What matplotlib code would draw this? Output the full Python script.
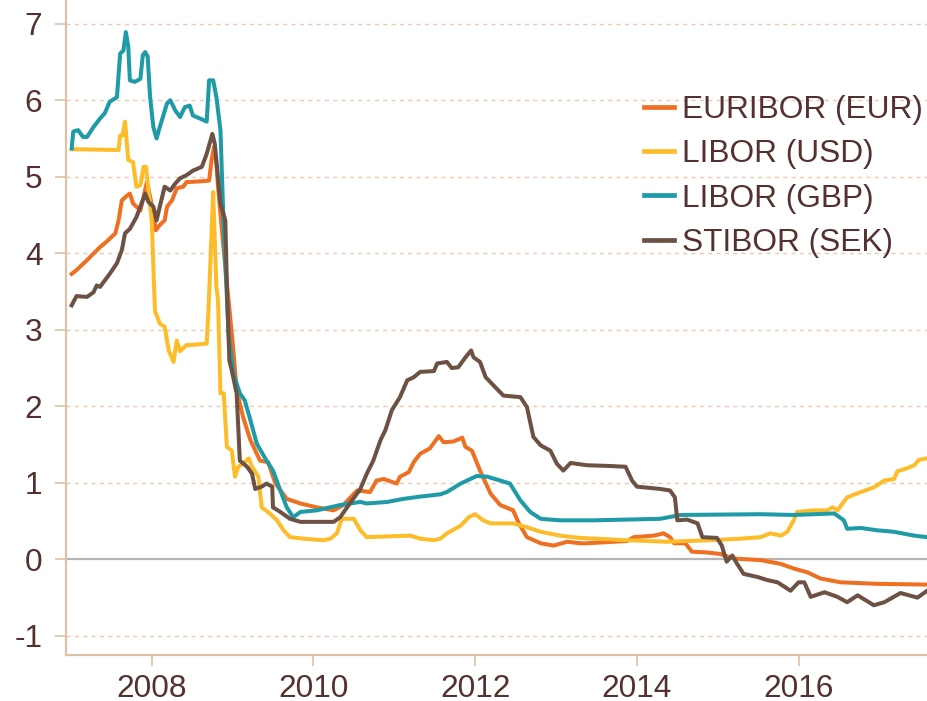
import matplotlib.pyplot as plt

# Tasas interbancarias a 3 meses (%) (año decimal, valor)
eur_t = [2007.01, 2007.07, 2007.20, 2007.36, 2007.44, 2007.55, 2007.59, 2007.63, 2007.69, 2007.73,
         2007.77, 2007.86, 2007.90, 2007.94, 2007.98, 2008.02, 2008.05, 2008.10, 2008.16, 2008.19,
         2008.25, 2008.31, 2008.39, 2008.43, 2008.60, 2008.71, 2008.74, 2008.77, 2008.80, 2008.82,
         2008.89, 2008.95, 2009.01, 2009.05, 2009.13, 2009.22, 2009.34, 2009.44, 2009.53, 2009.67,
         2009.84, 2010.04, 2010.25, 2010.37, 2010.54, 2010.70, 2010.78, 2010.87, 2011.03, 2011.07,
         2011.18, 2011.24, 2011.32, 2011.44, 2011.55, 2011.61, 2011.73, 2011.84, 2011.88, 2011.96,
         2012.06, 2012.19, 2012.31, 2012.47, 2012.54, 2012.64, 2012.81, 2012.97, 2013.14, 2013.30,
         2013.38, 2013.88, 2013.96, 2014.21, 2014.33, 2014.41, 2014.46, 2014.60, 2014.68, 2014.87,
         2015.03, 2015.20, 2015.53, 2015.78, 2015.94, 2016.11, 2016.27, 2016.52, 2016.97, 2017.59]
eur_v = [3.73, 3.78, 3.91, 4.08, 4.15, 4.26, 4.43, 4.69, 4.75, 4.78,
         4.65, 4.56, 4.74, 4.93, 4.74, 4.52, 4.30, 4.37, 4.43, 4.61,
         4.69, 4.85, 4.87, 4.93, 4.94, 4.95, 5.22, 5.39, 5.17, 4.87,
         4.04, 3.39, 2.73, 2.21, 1.86, 1.56, 1.29, 1.27, 0.99, 0.79,
         0.73, 0.68, 0.64, 0.71, 0.90, 0.88, 1.03, 1.05, 0.99, 1.08,
         1.14, 1.27, 1.38, 1.45, 1.61, 1.53, 1.54, 1.59, 1.47, 1.42,
         1.16, 0.86, 0.71, 0.64, 0.47, 0.29, 0.21, 0.18, 0.23, 0.21,
         0.21, 0.24, 0.29, 0.31, 0.34, 0.29, 0.21, 0.21, 0.10, 0.09,
         0.07, 0.01, -0.01, -0.06, -0.12, -0.17, -0.25, -0.30, -0.32, -0.33]

usd_t = [2007.01, 2007.59, 2007.61, 2007.64, 2007.67, 2007.71, 2007.77, 2007.81, 2007.86, 2007.90,
         2007.93, 2007.96, 2008.00, 2008.04, 2008.10, 2008.16, 2008.21, 2008.27, 2008.31, 2008.35,
         2008.43, 2008.47, 2008.68, 2008.70, 2008.74, 2008.76, 2008.80, 2008.82, 2008.85, 2008.89,
         2008.93, 2008.99, 2009.03, 2009.07, 2009.13, 2009.20, 2009.24, 2009.32, 2009.36, 2009.46,
         2009.55, 2009.63, 2009.71, 2009.88, 2010.12, 2010.21, 2010.29, 2010.35, 2010.50, 2010.58,
         2010.66, 2010.91, 2011.20, 2011.32, 2011.49, 2011.57, 2011.65, 2011.82, 2011.92, 2012.00,
         2012.10, 2012.19, 2012.47, 2012.64, 2012.81, 2013.05, 2013.30, 2013.88, 2014.37, 2014.91,
         2015.28, 2015.53, 2015.65, 2015.78, 2015.86, 2015.94, 2015.98, 2016.19, 2016.35, 2016.42,
         2016.48, 2016.60, 2016.77, 2016.93, 2017.06, 2017.18, 2017.22, 2017.34, 2017.43, 2017.49,
         2017.59]
usd_v = [5.36, 5.35, 5.54, 5.54, 5.72, 5.22, 5.19, 4.87, 4.89, 5.13,
         5.13, 4.82, 4.43, 3.25, 3.08, 3.04, 2.73, 2.58, 2.86, 2.72,
         2.80, 2.80, 2.82, 3.21, 4.26, 4.80, 3.56, 3.39, 2.17, 2.17,
         1.47, 1.42, 1.08, 1.21, 1.25, 1.32, 1.21, 1.08, 0.68, 0.60,
         0.51, 0.38, 0.29, 0.27, 0.25, 0.27, 0.34, 0.53, 0.53, 0.38,
         0.29, 0.30, 0.31, 0.27, 0.25, 0.27, 0.34, 0.44, 0.55, 0.59,
         0.51, 0.47, 0.47, 0.42, 0.36, 0.31, 0.28, 0.25, 0.23, 0.25,
         0.27, 0.29, 0.34, 0.31, 0.36, 0.51, 0.62, 0.64, 0.64, 0.68,
         0.64, 0.81, 0.88, 0.94, 1.03, 1.05, 1.15, 1.19, 1.23, 1.30,
         1.32]

gbp_t = [2007.01, 2007.03, 2007.09, 2007.15, 2007.20, 2007.28, 2007.36, 2007.42, 2007.48, 2007.57,
         2007.61, 2007.65, 2007.68, 2007.71, 2007.73, 2007.79, 2007.86, 2007.89, 2007.92, 2007.95,
         2007.98, 2008.02, 2008.06, 2008.10, 2008.19, 2008.23, 2008.29, 2008.35, 2008.41, 2008.47,
         2008.51, 2008.60, 2008.68, 2008.71, 2008.76, 2008.80, 2008.85, 2008.89, 2008.95, 2009.01,
         2009.09, 2009.15, 2009.22, 2009.30, 2009.42, 2009.50, 2009.59, 2009.67, 2009.75, 2009.84,
         2010.04, 2010.33, 2010.58, 2010.66, 2010.91, 2011.11, 2011.32, 2011.57, 2011.65, 2011.82,
         2012.02, 2012.15, 2012.31, 2012.43, 2012.56, 2012.68, 2012.81, 2013.05, 2013.47, 2014.29,
         2014.54, 2015.53, 2015.94, 2016.44, 2016.56, 2016.60, 2016.77, 2016.97, 2017.18, 2017.43,
         2017.59]
gbp_v = [5.37, 5.59, 5.61, 5.52, 5.52, 5.65, 5.76, 5.83, 5.98, 6.04,
         6.61, 6.65, 6.89, 6.70, 6.26, 6.24, 6.28, 6.59, 6.63, 6.57,
         6.04, 5.65, 5.50, 5.65, 5.96, 6.00, 5.87, 5.78, 5.91, 5.93,
         5.80, 5.76, 5.72, 6.26, 6.26, 6.04, 5.61, 4.34, 2.95, 2.43,
         2.17, 2.08, 1.82, 1.51, 1.29, 1.16, 0.90, 0.68, 0.55, 0.62,
         0.64, 0.71, 0.75, 0.73, 0.75, 0.79, 0.82, 0.85, 0.88, 0.99,
         1.09, 1.08, 1.03, 0.99, 0.77, 0.62, 0.53, 0.51, 0.51, 0.53,
         0.58, 0.59, 0.58, 0.60, 0.51, 0.40, 0.41, 0.38, 0.36, 0.31,
         0.29]

sek_t = [2007.01, 2007.07, 2007.20, 2007.28, 2007.32, 2007.36, 2007.48, 2007.57, 2007.63, 2007.67,
         2007.73, 2007.81, 2007.86, 2007.92, 2007.96, 2008.02, 2008.06, 2008.10, 2008.16, 2008.23,
         2008.29, 2008.35, 2008.43, 2008.51, 2008.62, 2008.68, 2008.75, 2008.78, 2008.85, 2008.91,
         2008.93, 2008.96, 2008.99, 2009.05, 2009.09, 2009.18, 2009.24, 2009.28, 2009.36, 2009.42,
         2009.49, 2009.50, 2009.59, 2009.71, 2009.84, 2010.25, 2010.33, 2010.45, 2010.58, 2010.66,
         2010.74, 2010.83, 2010.89, 2010.97, 2011.07, 2011.16, 2011.24, 2011.32, 2011.49, 2011.53,
         2011.65, 2011.71, 2011.79, 2011.88, 2011.95, 2011.98, 2012.06, 2012.13, 2012.23, 2012.35,
         2012.56, 2012.64, 2012.72, 2012.81, 2012.93, 2013.01, 2013.09, 2013.18, 2013.38, 2013.67,
         2013.86, 2013.94, 2014.00, 2014.29, 2014.41, 2014.47, 2014.50, 2014.62, 2014.75, 2014.81,
         2014.99, 2015.05, 2015.11, 2015.18, 2015.24, 2015.32, 2015.49, 2015.61, 2015.74, 2015.90,
         2016.00, 2016.07, 2016.15, 2016.32, 2016.48, 2016.60, 2016.73, 2016.93, 2017.06, 2017.26,
         2017.47, 2017.59]
sek_v = [3.32, 3.44, 3.43, 3.49, 3.58, 3.56, 3.73, 3.87, 4.04, 4.26,
         4.32, 4.47, 4.61, 4.78, 4.67, 4.61, 4.43, 4.61, 4.87, 4.82,
         4.91, 4.98, 5.02, 5.08, 5.13, 5.30, 5.56, 5.43, 4.65, 4.43,
         3.56, 2.60, 2.47, 2.17, 1.29, 1.21, 1.12, 0.92, 0.95, 0.99,
         0.95, 0.68, 0.62, 0.53, 0.49, 0.49, 0.55, 0.73, 0.92, 1.12,
         1.29, 1.56, 1.69, 1.95, 2.12, 2.34, 2.38, 2.45, 2.46, 2.56,
         2.58, 2.50, 2.51, 2.64, 2.73, 2.64, 2.58, 2.38, 2.27, 2.14,
         2.12, 1.99, 1.60, 1.49, 1.42, 1.25, 1.16, 1.26, 1.23, 1.22,
         1.21, 1.03, 0.95, 0.92, 0.90, 0.81, 0.51, 0.52, 0.47, 0.29,
         0.28, 0.18, -0.03, 0.05, -0.06, -0.19, -0.23, -0.27, -0.30, -0.41,
         -0.30, -0.30, -0.49, -0.43, -0.49, -0.56, -0.47, -0.60, -0.56, -0.44,
         -0.50, -0.41]

etiquetas = ["EURIBOR (EUR)", "LIBOR (USD)", "LIBOR (GBP)", "STIBOR (SEK)"]
colores = ["#EE7023", "#FDBD2B", "#1F9BA7", "#6D5244"]
anios = [2008, 2010, 2012, 2014, 2016]
niveles = [-1, 0, 1, 2, 3, 4, 5, 6, 7]

texto = "#54302E"
tostado = "#DCC0A8"

plt.rcParams["font.family"] = ["Liberation Sans", "DejaVu Sans"]
plt.rcParams["axes.unicode_minus"] = False

fig = plt.figure(figsize=(9.28, 7.01), dpi=100)
ax = fig.add_axes([66 / 928, 46 / 701, 862 / 928, 655 / 701])

# Rejilla punteada y línea del cero
for n in niveles:
    if n == 0:
        ax.axhline(0, color="#B5B5B5", lw=1.6, zorder=1)
    else:
        ax.axhline(n, color="#E8CBB4", lw=1.0, ls=(0, (3, 3)), zorder=1)

series = [(eur_t, eur_v), (usd_t, usd_v), (gbp_t, gbp_v), (sek_t, sek_v)]
for (t, v), lab, c in zip(series, etiquetas, colores):
    ax.plot(t, v, color=c, lw=2.9, label=lab, zorder=3, solid_joinstyle="round")

ax.set_xlim(2006.94, 2017.6)
ax.set_ylim(-1.25, 7.31)
ax.set_xticks(anios)
ax.set_yticks(niveles)

for lado in ["top", "right"]:
    ax.spines[lado].set_visible(False)
for lado in ["left", "bottom"]:
    ax.spines[lado].set_color(tostado)
    ax.spines[lado].set_linewidth(1.6)

ax.tick_params(axis="both", colors=tostado, labelcolor=texto, labelsize=22.8,
               length=8, width=1.2)
ax.tick_params(axis="y", pad=9)
ax.tick_params(axis="x", pad=6)

leg = ax.legend(loc="upper left", bbox_to_anchor=(644 / 928, 1 - 95 / 701),
                bbox_transform=fig.transFigure, frameon=False, fontsize=22.8,
                handlelength=0.95, handletextpad=0.26, labelspacing=0.45,
                borderpad=0, borderaxespad=0)
for txt in leg.get_texts():
    txt.set_color(texto)
for h in leg.get_lines():
    h.set_linewidth(3.4)

fig.savefig("out.png", dpi=100)
